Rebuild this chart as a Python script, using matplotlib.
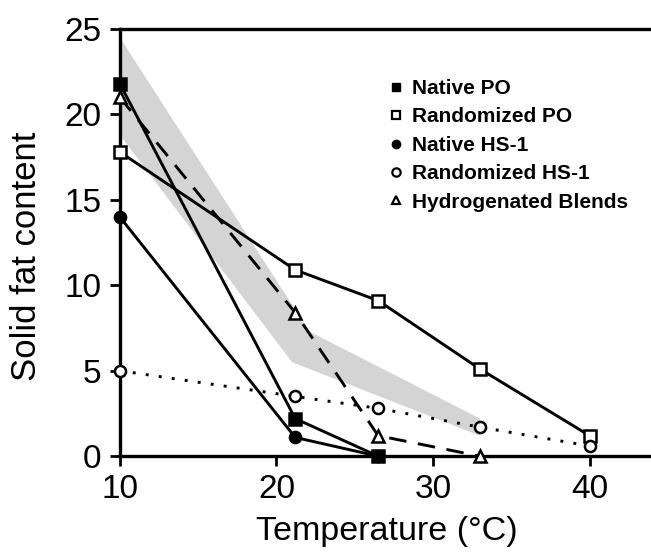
import matplotlib
matplotlib.use("Agg")
import matplotlib.pyplot as plt
from matplotlib.lines import Line2D

plt.rcParams["font.family"] = ["Liberation Sans", "DejaVu Sans"]

# temperaturas (°C) e teor de gordura sólida
temp_all = [10, 21.2, 26.5, 33.0, 40]

native_po_t = [10, 21.2, 26.5]
native_po = [21.8, 2.2, 0.0]

rand_po_t = temp_all
rand_po = [17.8, 10.9, 9.1, 5.1, 1.2]

native_hs_t = [10, 21.2, 26.5]
native_hs = [14.0, 1.1, 0.0]

rand_hs_t = temp_all
rand_hs = [5.0, 3.5, 2.8, 1.7, 0.6]

hydro_t = [10, 21.2, 26.5, 33.0]
hydro = [21.0, 8.4, 1.2, 0.0]

# faixa sombreada (limites superior / inferior)
band_up_t = [10, 22.1, 33.0]
band_up = [24.5, 7.3, 2.2]
band_lo_t = [10, 21.0, 33.0]
band_lo = [18.8, 5.5, 1.2]

xticks = [10, 20, 30, 40]
yticks = [0, 5, 10, 15, 20, 25]

fig = plt.figure(figsize=(6.51, 5.55), dpi=100)
ax = fig.add_axes([0.184, 0.178, 0.83, 0.77])

poly_x = band_up_t + band_lo_t[::-1]
poly_y = band_up + band_lo[::-1]
ax.fill(poly_x, poly_y, color="#d4d4d4", lw=0, zorder=1)

lw = 2.1
ms = 8
common = dict(color="black", lw=lw, ms=ms, mew=1.8, clip_on=False, zorder=3)
ax.plot(native_po_t, native_po, "-s", mfc="black", **common)
ax.plot(rand_po_t, rand_po, "-s", mfc="white", **common)
ax.plot(native_hs_t, native_hs, "-o", mfc="black", **common)
ax.plot(rand_hs_t, rand_hs, "o", mfc="white", linestyle=(0, (1, 3.5)), **common)
ax.plot(hydro_t, hydro, "^", mfc="white", linestyle=(0, (6, 4)), **common)

ax.set_xlim(10, 44.5)
ax.set_ylim(0, 25)
ax.set_xticks(xticks)
ax.set_yticks(yticks)
ax.tick_params(direction="out", length=7, width=2, labelsize=24, pad=6)
for side in ["left", "top", "bottom"]:
    ax.spines[side].set_linewidth(2.4)
ax.spines["right"].set_visible(False)

ax.set_xlabel("Temperature (°C)", fontsize=24.5)
ax.xaxis.set_label_coords(0.495, -0.14)
ax.set_ylabel("Solid fat content", fontsize=25)
ax.yaxis.set_label_coords(-0.142, 0.468)

handles = [
    Line2D([], [], ls="None", marker="s", mfc="black", mec="black", ms=6),
    Line2D([], [], ls="None", marker="s", mfc="white", mec="black", ms=6, mew=1.6),
    Line2D([], [], ls="None", marker="o", mfc="black", mec="black", ms=6),
    Line2D([], [], ls="None", marker="o", mfc="white", mec="black", ms=6, mew=1.6),
    Line2D([], [], ls="None", marker="^", mfc="white", mec="black", ms=6, mew=1.6),
]
labels = ["Native PO", "Randomized PO", "Native HS-1", "Randomized HS-1", "Hydrogenated Blends"]
ax.legend(handles, labels, loc="upper left", bbox_to_anchor=(0.48, 0.902), frameon=False,
          prop={"weight": "bold", "size": 15}, handlelength=0.8, handletextpad=0.4,
          labelspacing=0.45, borderaxespad=0)

fig.savefig("out.png", dpi=100)
